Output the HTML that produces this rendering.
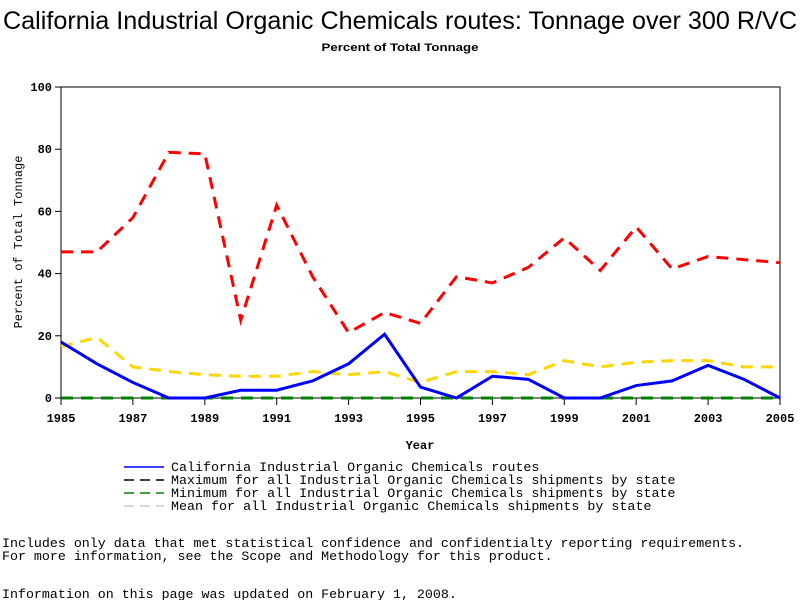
<!DOCTYPE html>
<html><head><meta charset="utf-8"><style>
body{margin:0;background:#fff;width:800px;height:600px;overflow:hidden}
svg{display:block}
</style></head><body>
<svg id="chart" width="800" height="600" xmlns="http://www.w3.org/2000/svg">
<text x="400" y="29" text-anchor="middle" font-family="Liberation Sans, sans-serif" font-size="25" textLength="794" lengthAdjust="spacingAndGlyphs">California Industrial Organic Chemicals routes: Tonnage over 300 R/VC</text>
<text x="400" y="51" text-anchor="middle" font-family="Liberation Sans, sans-serif" font-size="11" font-weight="bold" textLength="157" lengthAdjust="spacingAndGlyphs">Percent of Total Tonnage</text>
<rect x="61" y="87" width="719" height="311" fill="none" stroke="#000"/>
<g id="axes"></g>
<g id="series"></g>
<text x="420" y="449" text-anchor="middle" font-family="Liberation Mono, monospace" font-size="12" font-weight="bold">Year</text>
<text transform="translate(22,242) rotate(-90)" text-anchor="middle" font-family="Liberation Mono, monospace" font-size="12">Percent of Total Tonnage</text>
<g id="legend" font-family="Liberation Mono, monospace" font-size="13.35"></g>
<g font-family="Liberation Mono, monospace" font-size="13.3">
<text x="2" y="547">Includes only data that met statistical confidence and confidentialty reporting requirements.</text>
<text x="2" y="560">For more information, see the Scope and Methodology for this product.</text>
<text x="2" y="598">Information on this page was updated on February 1, 2008.</text>
</g>
</svg>
<script>
const years=[1985,1986,1987,1988,1989,1990,1991,1992,1993,1994,1995,1996,1997,1998,1999,2000,2001,2002,2003,2004,2005];
const caVals=[18,11,5,0,0,2.5,2.5,5.5,11,20.5,3.5,0,7,6,0,0,4,5.5,10.5,6,0];
const maxVals=[47,47,58,79,78.5,25,62,39,21,27.5,24,39,37,42,51.5,41,55,41.5,45.5,44.5,43.5];
const minVals=[0,0,0,0,0,0,0,0,0,0,0,0,0,0,0,0,0,0,0,0,0];
const meanVals=[16.5,19.5,10,8.5,7.5,7,7,8.5,7.5,8.5,5,8.5,8.5,7.5,12,10,11.5,12,12,10,10];
const xTicks=[1985,1987,1989,1991,1993,1995,1997,1999,2001,2003,2005];
const yTicks=[0,20,40,60,80,100];
const NS="http://www.w3.org/2000/svg";
const xs=y=>61+(y-1985)*719/20;
const ys=v=>398-v*3.11;
function mk(t,a,p){const e=document.createElementNS(NS,t);for(const k in a)e.setAttribute(k,a[k]);p.appendChild(e);return e;}
const axes=document.getElementById('axes');
xTicks.forEach(t=>{
 const l=mk('line',{x1:xs(t),x2:xs(t),y1:398,y2:405,stroke:'#000'},axes);
 
 
 const tx=mk('text',{x:xs(t),y:422,'text-anchor':'middle','font-family':'Liberation Mono, monospace','font-size':'12','font-weight':'bold'},axes);
 tx.textContent=t;
 
 
});
yTicks.forEach(t=>{
 const l=mk('line',{x1:55,x2:61,y1:ys(t),y2:ys(t),stroke:'#000'},axes);
 
 
 const tx=mk('text',{x:52,y:ys(t)+4,'text-anchor':'end','font-family':'Liberation Mono, monospace','font-size':'12','font-weight':'bold'},axes);
 tx.textContent=t;
 
 
});
const ser=document.getElementById('series');
function line(vals,color,dash,w,name){
 const pts=vals.map((v,i)=>xs(years[i])+','+ys(v)).join(' ');
 const p=mk('polyline',{points:pts,fill:'none',stroke:color,'stroke-width':w,'stroke-dasharray':dash},ser);
 
 
}
line(minVals,'#008000','12 8',3,'min-line');
line(meanVals,'#ffd700','12 8',3,'mean-line');
line(maxVals,'#ff0000','12 8',3,'max-line');
line(caVals,'#0000ff','none',3,'california-line');
const leg=document.getElementById('legend');
const items=[['#0000ff','none','California Industrial Organic Chemicals routes'],['#000','10 6','Maximum for all Industrial Organic Chemicals shipments by state'],['#008000','10 6','Minimum for all Industrial Organic Chemicals shipments by state'],['#ccc','10 6','Mean for all Industrial Organic Chemicals shipments by state']];
items.forEach((it,i)=>{
 const y=468+i*13;
 const l=mk('line',{x1:124,x2:164,y1:y-1,y2:y-1,stroke:it[0],'stroke-width':1.5,'stroke-dasharray':it[1]},leg);
 
 
 const t=mk('text',{x:171,y:y+3},leg);
 t.textContent=it[2];
 
 
});
</script>
</body></html>
